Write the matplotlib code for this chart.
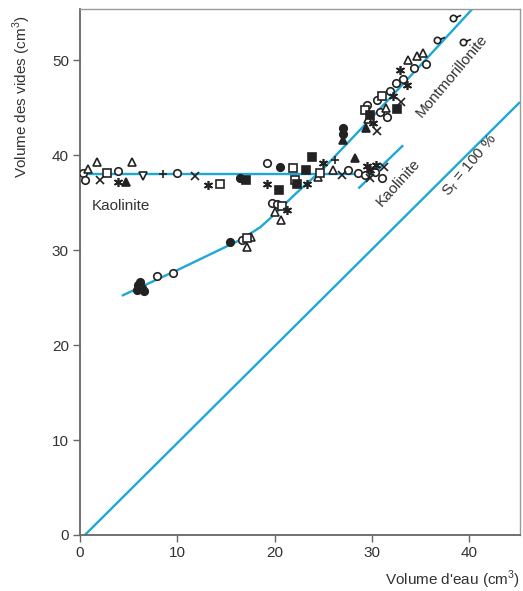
import matplotlib

matplotlib.use("Agg")
import matplotlib.pyplot as plt  # noqa: E402
from matplotlib.path import Path  # noqa: E402
import numpy as np  # noqa: E402

plt.rcParams["font.family"] = ["Liberation Sans Narrow", "Liberation Sans", "DejaVu Sans"]

LINE = "#1ea8d6"
INK = "#222222"

# fitted lines
sat_x = [0.5, 45.2]
sat_y = [0.0, 45.6]
kao_flat_x = [0.0, 30.8]
kao_flat_y = [38.0, 38.0]
kao_diag_x = [28.6, 33.2]
kao_diag_y = [36.5, 41.05]
mont_x = [4.3, 10.0, 16.4, 18.5, 19.8, 22.0, 25.0, 30.0, 35.0, 40.3]
mont_y = [25.2, 27.9, 31.05, 32.4, 33.6, 35.8, 38.6, 44.0, 49.5, 55.4]

# measured points, by symbol
open_circle = [(0.3, 38.1), (0.5, 37.4), (3.9, 38.3), (10.0, 38.1), (19.2, 39.2),
               (27.5, 38.4), (28.6, 38.1), (29.3, 37.9), (30.3, 38.2), (31.0, 37.6),
               (7.9, 27.3), (9.6, 27.6), (16.6, 31.05), (19.7, 35.0), (20.2, 34.9),
               (29.5, 45.3), (30.5, 45.8), (31.8, 46.8), (32.5, 47.6), (33.2, 48.0),
               (34.3, 49.2), (35.5, 49.6), (30.8, 44.5), (31.5, 44.0)]
filled_circle = [(6.0, 26.3), (6.4, 26.0), (5.9, 25.8), (6.6, 25.7), (6.2, 26.6),
                 (15.4, 30.9), (16.4, 37.6), (20.5, 38.8), (27.0, 42.9), (27.0, 42.2)]
open_tri = [(1.7, 39.3), (0.8, 38.6), (5.3, 39.3), (17.2, 30.3), (17.6, 31.4),
            (20.6, 33.2), (20.0, 34.0), (24.4, 37.7), (26.0, 38.4), (29.6, 43.8),
            (31.4, 45.0), (33.7, 50.0), (34.6, 50.5), (35.2, 50.8)]
filled_tri = [(4.7, 37.2), (28.3, 39.7), (29.4, 42.9), (27.0, 41.6)]
open_sq = [(2.8, 38.1), (14.4, 37.0), (21.9, 38.7), (22.1, 37.4), (24.7, 38.1),
           (29.3, 44.8), (31.0, 46.2), (17.2, 31.3), (20.7, 34.6)]
filled_sq = [(17.1, 37.4), (20.4, 36.3), (23.8, 39.8), (23.2, 38.4), (22.3, 37.0),
             (29.8, 44.2), (32.6, 44.9)]
cross = [(2.1, 37.4), (11.8, 37.8), (26.9, 37.9), (30.5, 42.6), (33.0, 45.6),
         (29.8, 37.6), (31.2, 38.8)]
plus = [(8.5, 38.0), (26.2, 39.5)]
star = [(3.9, 37.2), (13.2, 36.9), (19.2, 37.0), (23.3, 37.0), (25.0, 39.2),
        (29.5, 38.9), (29.8, 38.4), (30.4, 39.0), (21.3, 34.2), (30.1, 43.4),
        (32.2, 46.2), (33.6, 47.4), (32.9, 49.0)]
open_tri_down = [(6.5, 37.8)]
tailed_circle = [(36.7, 52.1), (38.3, 54.5), (39.3, 51.9)]

# circle with a short tail to the upper right
t = np.linspace(0, 2 * np.pi, 25)
verts = list(zip(0.5 * np.cos(t), 0.5 * np.sin(t))) + [(0.45, 0.2), (1.2, 0.5)]
codes = [Path.MOVETO] + [Path.LINETO] * 23 + [Path.CLOSEPOLY] + [Path.MOVETO, Path.LINETO]
TAIL = Path(verts, codes)

fig = plt.figure(figsize=(5.23, 5.91), dpi=100)
ax = fig.add_axes([80 / 523, 56 / 591, 440 / 523, 526 / 591])

for xs, ys in [(sat_x, sat_y), (kao_flat_x, kao_flat_y), (kao_diag_x, kao_diag_y), (mont_x, mont_y)]:
    ax.plot(xs, ys, color=LINE, lw=1.7, zorder=2, solid_capstyle="butt")

styles = [
    (open_circle, "o", "white", 5.4),
    (filled_circle, "o", INK, 5.4),
    (open_tri, "^", "white", 6.2),
    (filled_tri, "^", INK, 6.2),
    (open_sq, "s", "white", 5.4),
    (filled_sq, "s", INK, 5.4),
    (cross, "x", "none", 5.5),
    (plus, "+", "none", 6),
    (star, (6, 2, 0), "none", 6.5),
    (open_tri_down, "v", "white", 6.2),
    (tailed_circle, TAIL, "none", 11),
]
for pts, m, fc, ms in styles:
    xs, ys = zip(*pts)
    ax.plot(xs, ys, ls="none", marker=m, mfc=fc, mec=INK, mew=1.2, ms=ms, zorder=3)

ax.set_xlim(0, 45.2)
ax.set_ylim(0, 55.4)
ax.set_xticks([0, 10, 20, 30, 40])
ax.set_yticks([0, 10, 20, 30, 40, 50])
ax.tick_params(direction="out", length=5, width=1, color="#666666",
               labelsize=11, labelcolor="#333333", pad=3)
for side in ["left", "bottom"]:
    ax.spines[side].set_color("#666666")
    ax.spines[side].set_linewidth(1.3)
for side in ["top", "right"]:
    ax.spines[side].set_color("#999999")
    ax.spines[side].set_linewidth(1.0)

ax.text(1.2, 34.7, "Kaolinite", fontsize=11, color="#333333", va="center", ha="left")
ax.text(32.7, 37.1, "Kaolinite", fontsize=11, color="#333333", rotation=48,
        ha="center", va="center", rotation_mode="anchor")
ax.text(38.2, 48.4, "Montmorillonite", fontsize=11, color="#333333", rotation=50,
        ha="center", va="center", rotation_mode="anchor")
ax.text(40.1, 38.9, r"S$_\mathregular{r}$ = 100 %", fontsize=11, color="#333333",
        rotation=50, ha="center", va="center", rotation_mode="anchor")

fig.text(22 / 523, 1 - 97 / 591, "Volume des vides (cm$^\\mathregular{3}$)", rotation=90,
         fontsize=11, color="#333333", ha="center", va="center")
fig.text(520 / 523, 1 - 580 / 591, "Volume d'eau (cm$^\\mathregular{3}$)",
         fontsize=11, color="#333333", ha="right", va="center")

fig.savefig("out.png", dpi=100)
